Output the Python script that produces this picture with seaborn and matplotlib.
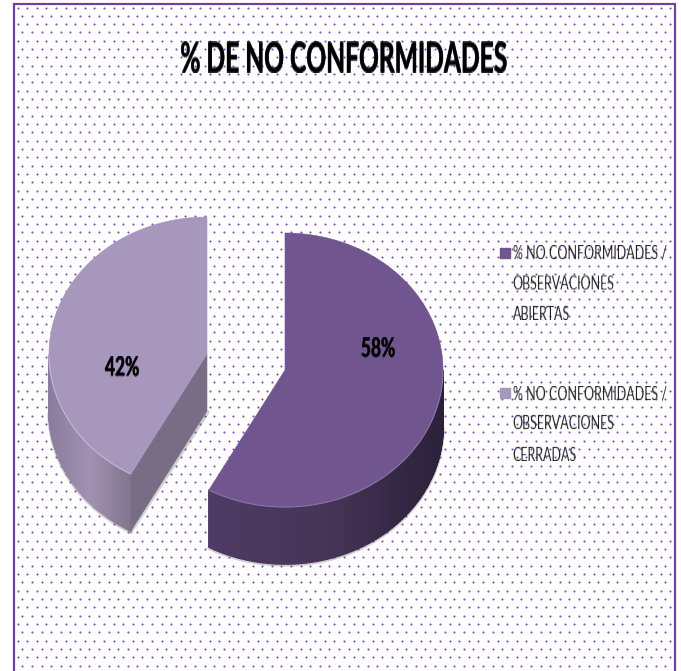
import numpy as np
import seaborn as sns
import matplotlib.pyplot as plt
from matplotlib.collections import PolyCollection
from matplotlib.colors import LinearSegmentedColormap
from matplotlib.lines import Line2D
from matplotlib.patches import Polygon, Rectangle
import matplotlib.patheffects as pe

sns.set_theme(style="white")
plt.rcParams['font.family'] = ['Lato', 'DejaVu Sans']

title = "% DE NO CONFORMIDADES"
labels = ["% NO CONFORMIDADES /\nOBSERVACIONES\nABIERTAS",
          "% NO CONFORMIDADES /\nOBSERVACIONES\nCERRADAS"]
values = [58, 42]
top_colors = ["#70558f", "#a797bd"]
side_colors = [["#4e3b66", "#463557", "#2b2039"], ["#8b7d9f", "#a192b2", "#82758f"]]
cut_color = "#786d85"


# the original font is a tall narrow one, none is installed so stretch the drawn text
def stretch(factor):
    def f(img, dpi):
        h = img.shape[0]
        new_h = int(h * factor)
        rows = np.linspace(0, h - 1, new_h)
        low = np.floor(rows).astype(int)
        high = np.minimum(low + 1, h - 1)
        w = (rows - low)[:, None, None]
        out = img[low] * (1 - w) + img[high] * w
        return out, 0, -(new_h - h) // 2
    return f


fig, ax = plt.subplots(figsize=(6.81, 6.71), dpi=100)
ax.set_position([0, 0, 1, 1])
ax.set_xlim(0, 681)
ax.set_ylim(671, 0)
ax.axis("off")

# dotted chart area
frame = Rectangle((14, 4), 661, 680, fc="white", ec="#7040a0", lw=1.6, zorder=1)
ax.add_patch(frame)
for i, y in enumerate(np.arange(7.5, 671, 8.33)):
    xs = np.arange(17.5 + (i % 2) * 4.8, 674, 9.6)
    ax.scatter(xs, np.full(len(xs), y), s=2.3, color="#7f4db8", linewidths=0, zorder=2)

# 3d pie, angles run clockwise from 12 o'clock
rx, ry, depth = 158, 137, 57
centers = [(285, 370), (207, 354)]
edges = np.cumsum([0] + values) / sum(values) * 2 * np.pi


def px(c, t):
    return c[0] + rx * np.sin(t), c[1] - ry * np.cos(t)


for k in [1, 0]:
    c = centers[k]
    t = np.linspace(edges[k], edges[k + 1], 200)
    x, y = px(c, t)

    # outer wall with a gradient along x
    vis = np.cos(t) < 0
    xv, yv = x[vis], y[vis]
    quads = [[(xv[j], yv[j]), (xv[j + 1], yv[j + 1]), (xv[j + 1], yv[j + 1] + depth), (xv[j], yv[j] + depth)]
             for j in range(len(xv) - 1)]
    cmap = LinearSegmentedColormap.from_list("wall", side_colors[k])
    ax.plot(xv, yv + depth + 1, color="#666666", alpha=0.3, lw=2.5, zorder=3)
    wall = PolyCollection(quads, array=(xv[:-1] - xv.min()) / (xv.max() - xv.min()), cmap=cmap,
                          edgecolors="face", linewidths=1.2, zorder=4)
    ax.add_collection(wall)

    # cut face, only the one turned to the viewer
    if k == 1:
        ex, ey = px(c, edges[k])
        ax.plot([ex, c[0] + 1], [ey + depth + 1, c[1] + depth + 1], color="#666666", alpha=0.3, lw=2.5, zorder=3)
        ax.add_patch(Polygon([c, (ex, ey), (ex, ey + depth), (c[0], c[1] + depth)], fc=cut_color, ec=cut_color,
                             lw=0.4, zorder=4))

    ax.add_patch(Polygon(np.r_[[c], np.c_[x, y]], fc=top_colors[k], ec=top_colors[k], lw=0.4, zorder=5))
    ax.plot(xv, yv, color="#c4b8d4" if k else "#8b74a8", lw=0.8, zorder=6)

shadow = [pe.withStroke(linewidth=0.4, foreground="#101828")]
ax.text(344, 58, title, fontsize=17.7, fontweight="bold", color="black", ha="center", va="center",
        path_effects=shadow, zorder=7, agg_filter=stretch(1.7))
pct_pos = [(378, 348), (122, 367)]
for v, p in zip(values, pct_pos):
    ax.text(p[0], p[1], f"{v}%", fontsize=12.5, fontweight="bold", color="black", ha="center", va="center",
            path_effects=shadow, zorder=7, agg_filter=stretch(1.5))

handles = [Line2D([], [], marker="s", ls="", ms=7, color=col) for col in top_colors]
leg = ax.legend(handles, labels, loc="upper left", bbox_to_anchor=(499 / 681, 1 - 255.5 / 671), frameon=False,
                fontsize=9, labelspacing=6.9, handletextpad=0.1, handlelength=1.0, borderpad=0, borderaxespad=0)
for txt, h in zip(leg.get_texts(), leg.legend_handles):
    txt.set_linespacing(1.92)
    txt.set_color("#222222")
    txt.set_agg_filter(stretch(1.45))
    h.set_ydata(np.asarray(h.get_ydata()) + 22)
leg.set_zorder(7)

fig.savefig("out.png", dpi=100)
